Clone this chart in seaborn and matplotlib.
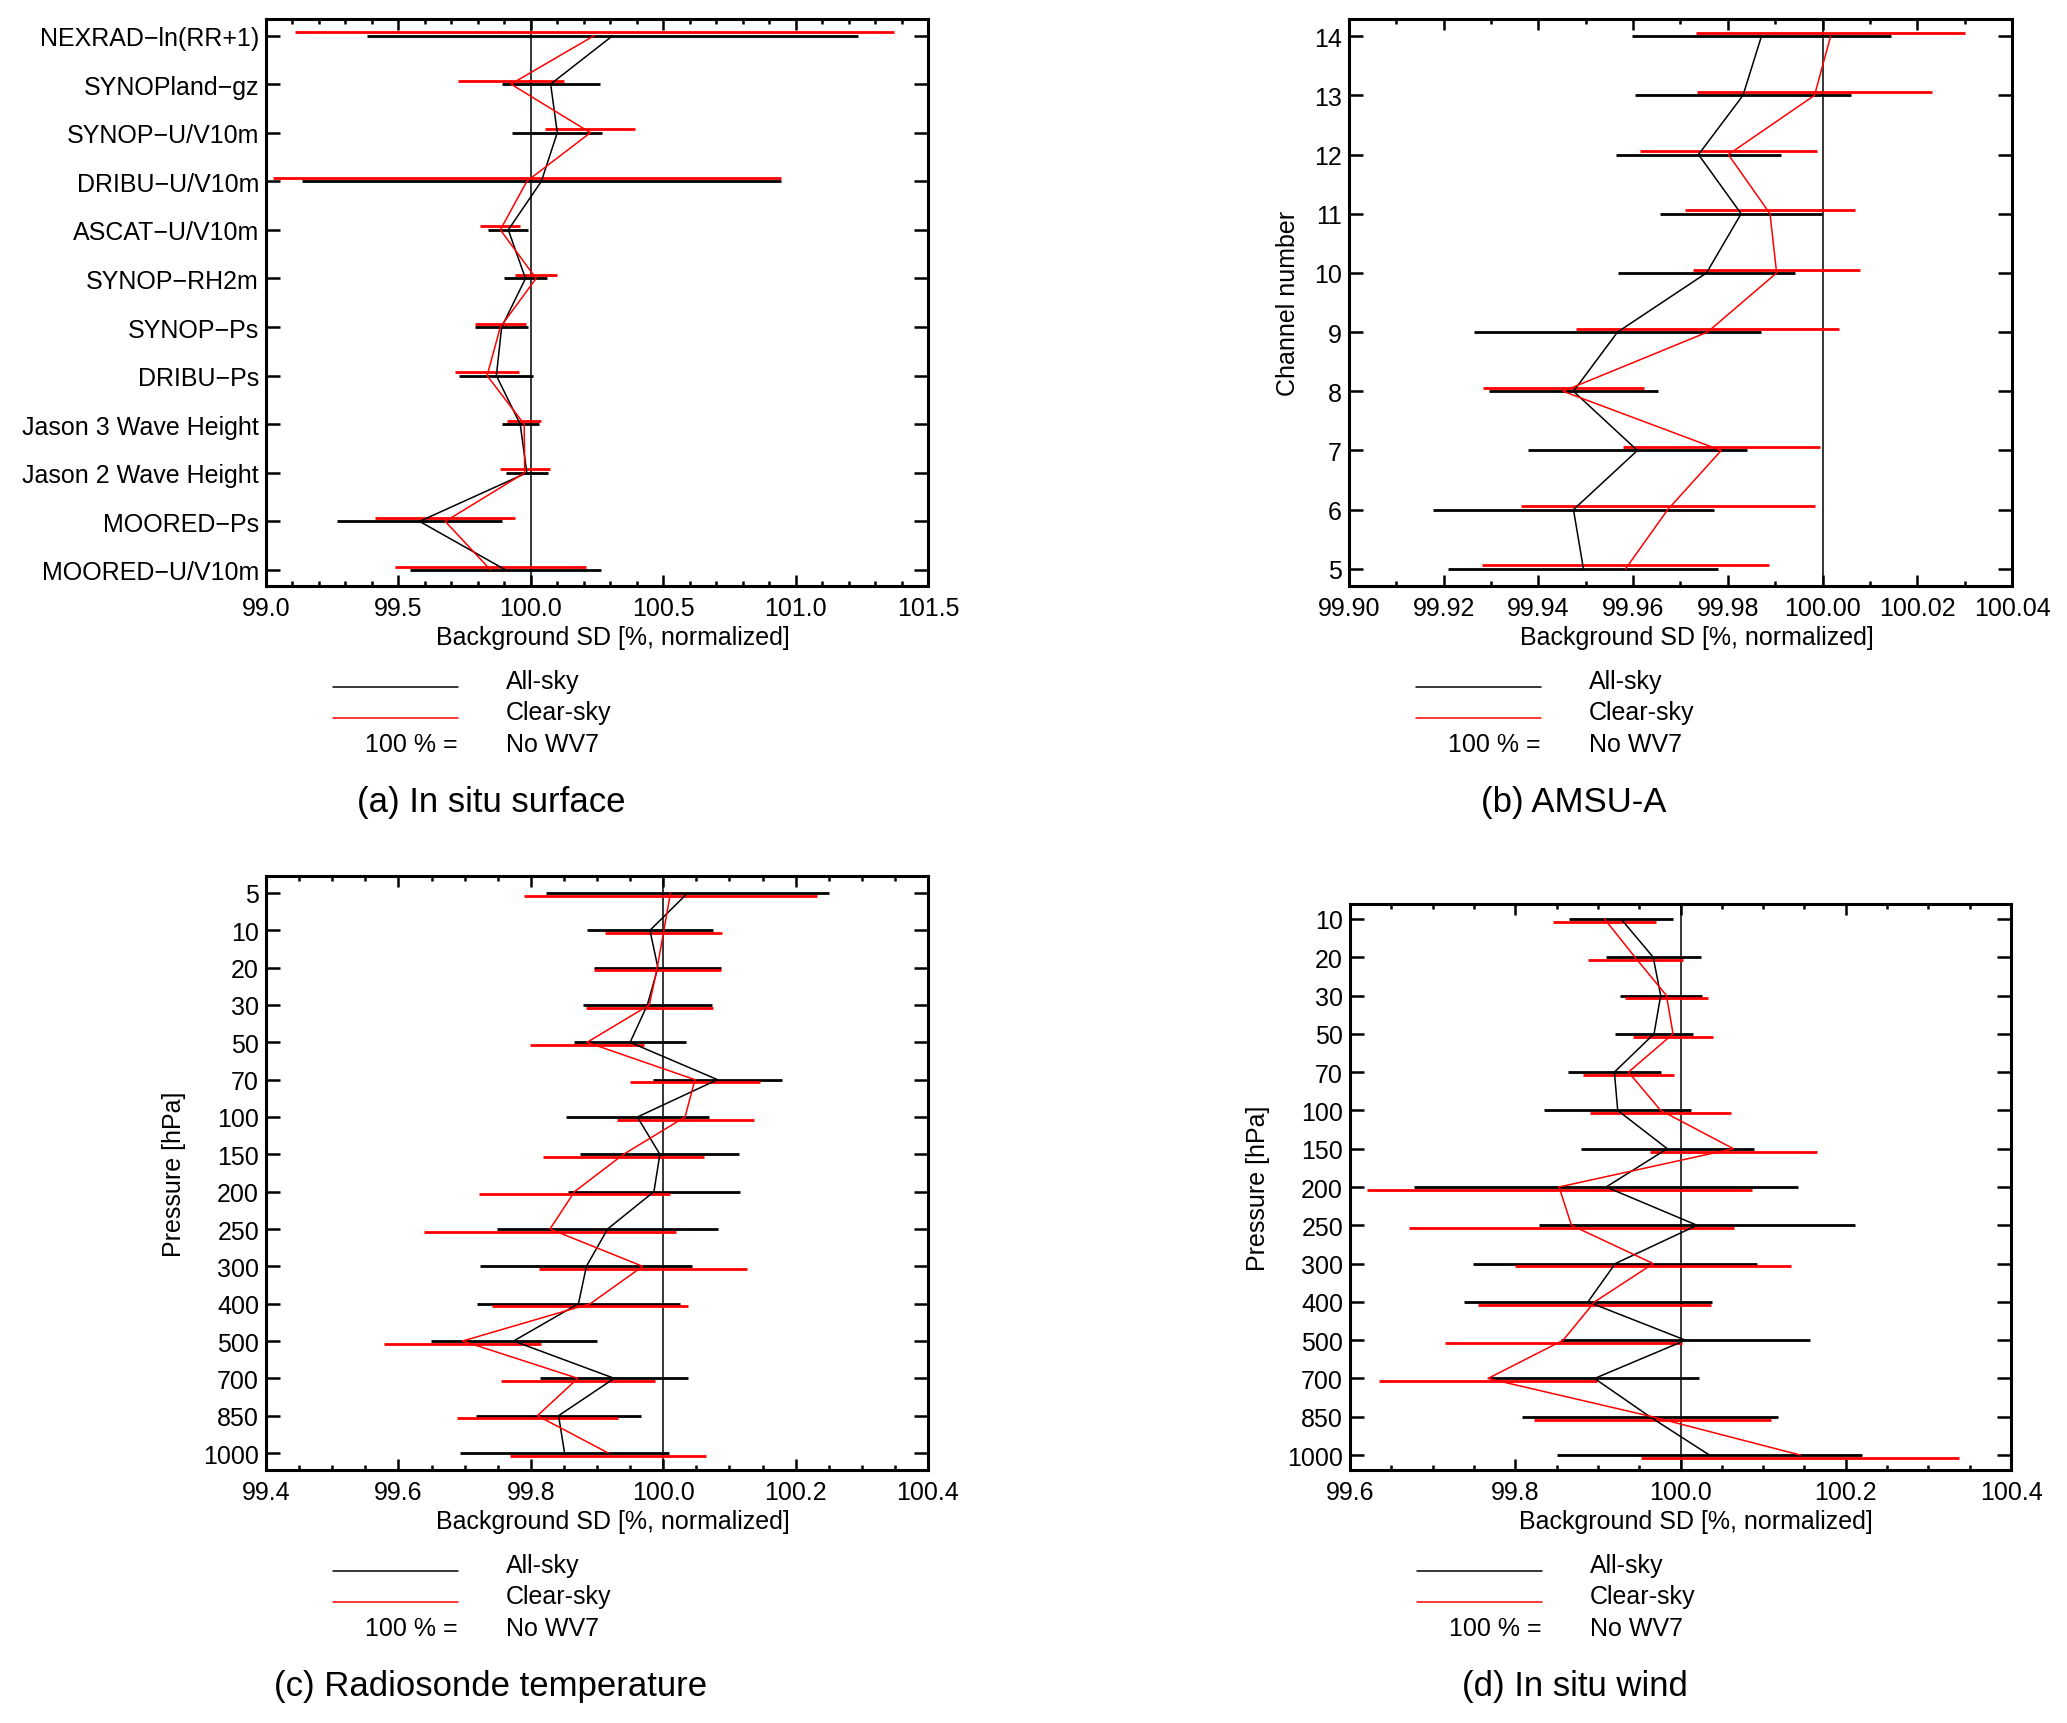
import numpy as np
import matplotlib
matplotlib.use('Agg')
import matplotlib.pyplot as plt
from matplotlib.lines import Line2D
from matplotlib.ticker import MultipleLocator, FormatStrFormatter
import seaborn as sns

# ─────────────────────────────────────────────
# Data
# ─────────────────────────────────────────────

# (a) In situ surface, top to bottom
surface_names = ['NEXRAD\u2212ln(RR+1)', 'SYNOPland\u2212gz', 'SYNOP\u2212U/V10m',
                 'DRIBU\u2212U/V10m', 'ASCAT\u2212U/V10m', 'SYNOP\u2212RH2m',
                 'SYNOP\u2212Ps', 'DRIBU\u2212Ps', 'Jason 3 Wave Height',
                 'Jason 2 Wave Height', 'MOORED\u2212Ps', 'MOORED\u2212U/V10m']
surface_all = [100.31, 100.075, 100.10, 100.04, 99.915, 99.98,
               99.89, 99.87, 99.96, 99.985, 99.58, 99.905]
surface_all_err = [0.927, 0.185, 0.17, 0.905, 0.075, 0.08,
                   0.10, 0.14, 0.07, 0.08, 0.31, 0.36]
surface_clear = [100.24, 99.925, 100.225, 99.985, 99.885, 100.02,
                 99.885, 99.835, 99.975, 99.977, 99.677, 99.848]
surface_clear_err = [1.13, 0.20, 0.17, 0.96, 0.075, 0.08,
                     0.095, 0.12, 0.065, 0.095, 0.265, 0.36]

# (b) AMSU-A channels
amsu_channels = [14, 13, 12, 11, 10, 9, 8, 7, 6, 5]
amsu_all = [99.9871, 99.9832, 99.9738, 99.9828, 99.9755,
            99.9567, 99.9474, 99.9609, 99.9474, 99.9495]
amsu_all_err = [0.0273, 0.0229, 0.0174, 0.0171, 0.0186,
                0.0304, 0.0178, 0.0231, 0.0296, 0.0285]
amsu_clear = [100.0017, 99.9983, 99.9801, 99.9889, 99.9903,
              99.9757, 99.9452, 99.9786, 99.9673, 99.9584]
amsu_clear_err = [0.0284, 0.0249, 0.0187, 0.0180, 0.0176,
                  0.0278, 0.0170, 0.0208, 0.0310, 0.0303]

# (c) Radiosonde temperature
temp_levels = ['5', '10', '20', '30', '50', '70', '100', '150', '200',
               '250', '300', '400', '500', '700', '850', '1000']
temp_all = [100.037, 99.980, 99.992, 99.976, 99.950, 100.082, 99.961, 99.995,
            99.986, 99.916, 99.884, 99.872, 99.774, 99.926, 99.842, 99.851]
temp_all_err = [0.214, 0.0955, 0.096, 0.0975, 0.0845, 0.097, 0.1075, 0.12,
                0.13, 0.167, 0.16, 0.154, 0.1255, 0.112, 0.125, 0.158]
temp_clear = [100.011, 100.001, 99.991, 99.979, 99.885, 100.048, 100.033, 99.940,
              99.866, 99.829, 99.969, 99.890, 99.697, 99.871, 99.810, 99.917]
temp_clear_err = [0.222, 0.0885, 0.096, 0.096, 0.0865, 0.098, 0.1035, 0.1215,
                  0.1445, 0.19, 0.157, 0.148, 0.1185, 0.116, 0.121, 0.148]

# (d) In situ wind
wind_levels = ['10', '20', '30', '50', '70', '100', '150', '200',
               '250', '300', '400', '500', '700', '850', '1000']
wind_all = [99.928, 99.967, 99.976, 99.968, 99.920, 99.924, 99.984, 99.910,
            100.020, 99.921, 99.888, 100.006, 99.896, 99.963, 100.035]
wind_all_err = [0.0625, 0.0575, 0.0495, 0.0475, 0.056, 0.089, 0.1045, 0.2325,
                0.1915, 0.172, 0.1505, 0.151, 0.126, 0.155, 0.1845]
wind_clear = [99.908, 99.945, 99.983, 99.991, 99.937, 99.976, 100.064, 99.853,
              99.868, 99.967, 99.896, 99.858, 99.767, 99.966, 100.145]
wind_clear_err = [0.062, 0.0575, 0.0505, 0.0485, 0.0555, 0.0855, 0.101, 0.233,
                  0.197, 0.167, 0.1405, 0.1435, 0.132, 0.1435, 0.1925]

# ─────────────────────────────────────────────
# Style
# ─────────────────────────────────────────────
sns.set_style('ticks')
plt.rcParams['font.family'] = ['Liberation Sans', 'DejaVu Sans']
plt.rcParams['font.size'] = 18
plt.rcParams['axes.unicode_minus'] = True
for key in ('axes.edgecolor', 'xtick.color', 'ytick.color',
            'text.color', 'axes.labelcolor'):
    plt.rcParams[key] = 'black'

W, H = 2067, 1724
FS = 18
FS_TITLE = 25


def box(left, right, top, bottom):
    """Axes rectangle from pixel edges of the reference."""
    return [left / W, 1 - bottom / H, (right - left) / W, (bottom - top) / H]


def draw_panel(ax, pos, all_v, all_e, clr_v, clr_e, red_shift):
    pos = np.asarray(pos, dtype=float)
    all_v, all_e = np.asarray(all_v), np.asarray(all_e)
    clr_v, clr_e = np.asarray(clr_v), np.asarray(clr_e)
    ax.axvline(100.0, color='black', lw=1.1, zorder=1)
    ax.hlines(pos, all_v - all_e, all_v + all_e, color='black', lw=2.0, zorder=2)
    ax.hlines(pos + red_shift, clr_v - clr_e, clr_v + clr_e, color='red', lw=2.0, zorder=2)
    sns.lineplot(x=all_v, y=pos, orient='y', sort=False, estimator=None,
                 color='black', lw=1.1, ax=ax, zorder=3)
    sns.lineplot(x=clr_v, y=pos, orient='y', sort=False, estimator=None,
                 color='red', lw=1.1, ax=ax, zorder=3)


def style_axes(ax, major, minor, fmt, ylabel_x=None, ylabel=None):
    ax.xaxis.set_major_locator(MultipleLocator(major))
    ax.xaxis.set_minor_locator(MultipleLocator(minor))
    ax.xaxis.set_major_formatter(FormatStrFormatter(fmt))
    ax.tick_params(axis='x', which='major', direction='in', length=8, width=1.8,
                   top=True, bottom=True, labelsize=FS, pad=7, color='black')
    ax.tick_params(axis='x', which='minor', direction='in', length=3.6, width=1.8,
                   top=True, bottom=True, color='black')
    ax.tick_params(axis='y', which='major', direction='in', length=10, width=1.8,
                   left=True, right=True, labelsize=FS, pad=5, color='black')
    ax.tick_params(axis='y', which='minor', left=False, right=False)
    for sp in ax.spines.values():
        sp.set_linewidth(2.2)
        sp.set_color('black')
        sp.set_visible(True)
    ax.set_xlabel('Background SD [%, normalized]', fontsize=FS)
    ax.xaxis.set_label_coords(0.524, -51 / (ax.get_position().height * H))
    ax.xaxis.label.set_va('center')
    if ylabel is not None:
        ax.set_ylabel(ylabel, fontsize=FS)
        ax.yaxis.set_label_coords(ylabel_x, 0.5)
        ax.yaxis.label.set_va('center')
    else:
        ax.set_ylabel('')


def legend_block(fig, left, bottom, title):
    def fx(x):
        return x / W

    def fy(y):
        return 1 - y / H

    fig.add_artist(Line2D([fx(left + 67), fx(left + 192)], [fy(bottom + 101)] * 2,
                          color='black', lw=1.1, transform=fig.transFigure))
    fig.add_artist(Line2D([fx(left + 67), fx(left + 192)], [fy(bottom + 132)] * 2,
                          color='red', lw=1.1, transform=fig.transFigure))
    fig.text(fx(left + 240), fy(bottom + 95), 'All-sky', fontsize=FS, va='center', ha='left')
    fig.text(fx(left + 240), fy(bottom + 126), 'Clear-sky', fontsize=FS, va='center', ha='left')
    fig.text(fx(left + 192), fy(bottom + 158), '100 % =', fontsize=FS, va='center', ha='right')
    fig.text(fx(left + 240), fy(bottom + 158), 'No WV7', fontsize=FS, va='center', ha='left')
    fig.text(fx(left + 225), fy(bottom + 216), title, fontsize=FS_TITLE, va='center', ha='center')


fig = plt.figure(figsize=(W / 100, H / 100), dpi=100)

# (a) In situ surface
ax_a = fig.add_axes(box(266, 928, 20, 587))
pos_a = np.arange(len(surface_names))
draw_panel(ax_a, pos_a, surface_all, surface_all_err,
           surface_clear, surface_clear_err, red_shift=-0.07)
ax_a.set_xlim(99.0, 101.5)
ax_a.set_ylim(len(surface_names) - 1 + 0.33, -0.34)
ax_a.set_yticks(pos_a)
ax_a.set_yticklabels(surface_names)
style_axes(ax_a, 0.5, 0.1, '%.1f')
legend_block(fig, 266, 587, '(a) In situ surface')

# (b) AMSU-A
ax_b = fig.add_axes(box(1349, 2012, 20, 587))
draw_panel(ax_b, amsu_channels, amsu_all, amsu_all_err,
           amsu_clear, amsu_clear_err, red_shift=0.057)
ax_b.set_xlim(99.90, 100.04)
ax_b.set_ylim(4.71, 14.29)
ax_b.set_yticks(amsu_channels)
ax_b.set_yticklabels([str(c) for c in amsu_channels])
style_axes(ax_b, 0.02, 0.01, '%.2f', ylabel_x=-0.092, ylabel='Channel number')
legend_block(fig, 1349, 587, '(b) AMSU-A')

# (c) Radiosonde temperature
ax_c = fig.add_axes(box(266, 928, 877, 1471))
pos_c = np.arange(len(temp_levels))
draw_panel(ax_c, pos_c, temp_all, temp_all_err,
           temp_clear, temp_clear_err, red_shift=0.075)
ax_c.set_xlim(99.4, 100.4)
ax_c.set_ylim(len(temp_levels) - 1 + 0.455, -0.455)
ax_c.set_yticks(pos_c)
ax_c.set_yticklabels(temp_levels)
style_axes(ax_c, 0.2, 0.05, '%.1f', ylabel_x=-0.139, ylabel='Pressure [hPa]')
legend_block(fig, 266, 1471, '(c) Radiosonde temperature')

# (d) In situ wind
ax_d = fig.add_axes(box(1350, 2011, 905, 1471))
pos_d = np.arange(len(wind_levels))
draw_panel(ax_d, pos_d, wind_all, wind_all_err,
           wind_clear, wind_clear_err, red_shift=0.075)
ax_d.set_xlim(99.6, 100.4)
ax_d.set_ylim(len(wind_levels) - 1 + 0.39, -0.39)
ax_d.set_yticks(pos_d)
ax_d.set_yticklabels(wind_levels)
style_axes(ax_d, 0.2, 0.05, '%.1f', ylabel_x=-0.139, ylabel='Pressure [hPa]')
legend_block(fig, 1350, 1471, '(d) In situ wind')

for ax in (ax_a, ax_b, ax_c, ax_d):
    leg = ax.get_legend()
    if leg is not None:
        leg.remove()

fig.savefig('out.png', dpi=100, facecolor='white')
plt.close(fig)
